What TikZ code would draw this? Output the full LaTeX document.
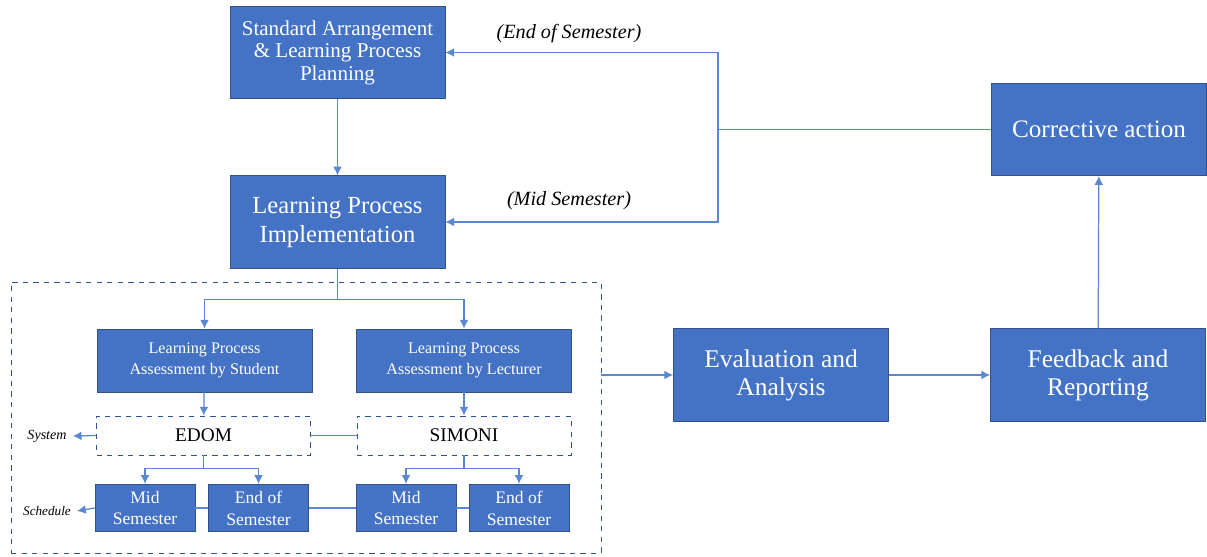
\documentclass[tikz,border=0pt]{standalone}
\usepackage{fontspec}
\setmainfont{Liberation Serif}
\usepackage{tikz}
\usetikzlibrary{arrows.meta, positioning, calc}
\definecolor{boxblue}{HTML}{4472C4}
\definecolor{edgeblue}{HTML}{2F528F}
\definecolor{wireblue}{HTML}{5B86D1}

\begin{document}
\begin{tikzpicture}[x=0.02cm, y=-0.02cm,
  stage/.style={rectangle, fill=boxblue, draw=edgeblue, text=white, align=center,
    minimum width=4.3cm, minimum height=1.85cm, inner sep=2pt},
  assess/.style={stage, minimum height=1.26cm, font=\fontsize{9.2}{12}\selectfont},
  tool/.style={rectangle, draw=edgeblue, dashed, fill=white, align=center,
    minimum width=4.28cm, minimum height=0.78cm, font=\fontsize{11}{12}\selectfont},
  period/.style={stage, minimum width=2cm, minimum height=0.95cm, inner sep=0pt,
    font=\fontsize{10}{12.5}\selectfont},
  note/.style={font=\itshape\fontsize{11.5}{12}\selectfont},
  side/.style={font=\itshape\fontsize{8}{9}\selectfont},
  wire/.style={draw=wireblue, line width=0.7pt},
  arr/.style={wire, -{Latex[length=5pt,width=5pt]}}
]
  \useasboundingbox (0,0) rectangle (1207,557);

  % main loop
  \node[stage, font=\fontsize{12}{12.8}\selectfont] (plan) at (337.5,52.5) {Standard Arrangement\\\& Learning Process\\Planning};
  \node[stage, font=\fontsize{14}{16.5}\selectfont] (impl) at (337.5,222) {Learning Process\\Implementation};
  \node[stage, font=\fontsize{14.3}{16}\selectfont] (corr) at (1099,129.5) {Corrective action};
  \node[stage, font=\fontsize{14.5}{16}\selectfont] (eval) at (781,375) {Evaluation and\\Analysis};
  \node[stage, font=\fontsize{14.5}{16}\selectfont] (feed) at (1098,375) {Feedback and\\Reporting};

  % assessment block
  \node[draw=edgeblue, dashed, minimum width=11.8cm, minimum height=5.42cm] (frame) at (306,417.5) {};
  \node[assess] (stud) at (204.5,360.5) {Learning Process\\Assessment by Student};
  \node[assess] (lect) at (464,360.5) {Learning Process\\Assessment by Lecturer};
  \node[tool] (edom) at (203.5,435.5) {EDOM};
  \node[tool] (simoni) at (464,435.5) {SIMONI};
  \node[period] (mid1) at (145,508) {Mid\\Semester};
  \node[period] (end1) at (258.5,508) {End of\\Semester};
  \node[period] (mid2) at (406,508) {Mid\\Semester};
  \node[period] (end2) at (519,508) {End of\\Semester};
  \node[side] (sys) at (47,436) {System};
  \node[side, font=\itshape\fontsize{7.5}{9}\selectfont] (sched) at (47,511) {Schedule};

  \node[note] (endlbl) at (569,34) {(End of Semester)};
  \node[note] (midlbl) at (569,201) {(Mid Semester)};

  % connectors
  \draw[arr] (plan) -- (impl);
  \draw[arr] (impl.south) -- ++(0,31) -| (stud.north);
  \draw[arr] (impl.south) -- ++(0,31) -| (lect.north);
  \draw[arr] (stud) -- (edom);
  \draw[arr] (lect) -- (simoni);
  \draw[arr] (edom.south) -- ++(0,13) -| (mid1.north);
  \draw[arr] (edom.south) -- ++(0,13) -| (end1.north);
  \draw[arr] (simoni.south) -- ++(0,13) -| (mid2.north);
  \draw[arr] (simoni.south) -- ++(0,13) -| (end2.north);
  \draw[wire] (edom) -- (simoni);
  \draw[wire] (mid1) -- (end1);
  \draw[wire] (end1) -- (mid2);
  \draw[wire] (mid2) -- (end2);
  \draw[arr] (edom.west) -- (sys.east);
  \draw[arr] (mid1.west) -- (sched.east);

  \draw[arr] (frame.east |- eval.west) -- (eval.west);
  \draw[arr] (eval) -- (feed);
  \draw[arr] (feed) -- (corr);
  \coordinate (loop) at (718,129.5);
  \draw[wire] (corr.west) -- (loop);
  \draw[arr] (loop) |- (plan.east);
  \draw[arr] (loop) |- (impl.east);
\end{tikzpicture}
\end{document}
